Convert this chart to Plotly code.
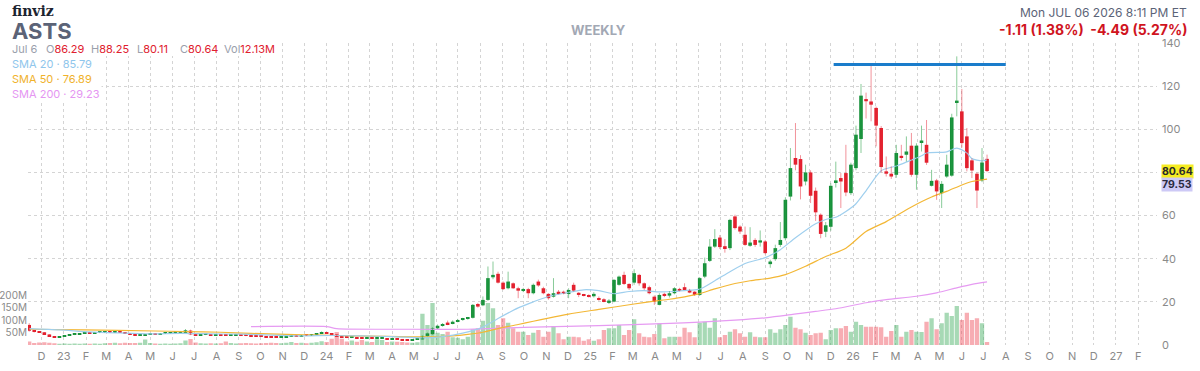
import pandas as pd
import plotly.graph_objects as go

# ---------------- data (weekly, ASTS) ----------------
first_week = "2022-11-14"

opens = [
    9.3, 6.6, 6.2, 5.9, 4.9, 4.0, 3.6, 3.9, 4.4, 4.7,
    5.0, 5.2, 5.5, 5.3, 5.6, 5.8, 6.0, 5.8, 6.0, 5.7,
    5.3, 4.9, 4.4, 4.6, 4.9, 5.2, 5.0, 5.3, 5.5, 5.6,
    5.8, 6.0, 6.7, 4.9, 4.6, 4.7, 4.8, 4.6, 4.7, 4.6,
    4.4, 4.5, 4.6, 4.4, 4.2, 4.1, 4.0, 3.9, 3.7, 3.5,
    3.4, 3.6, 3.9, 4.3, 4.1, 4.6, 4.4, 4.9, 5.4, 5.8,
    5.4, 4.9, 4.0, 3.5, 3.3, 3.5, 3.2, 3.0, 3.2, 3.0,
    3.0, 3.1, 2.7, 2.8, 2.5, 2.3, 2.2, 2.5, 2.6, 4.2,
    5.0, 7.7, 8.9, 10.4, 9.9, 10.8, 11.6, 12.1, 12.6, 19.0,
    18.4, 20.9, 31.4, 33.0, 28.9, 26.3, 28.6, 26.3, 25.2, 25.9,
    24.0, 29.4, 26.3, 23.7, 22.4, 24.7, 24.7, 23.6, 27.9, 24.2,
    23.2, 23.0, 22.6, 21.7, 21.2, 19.5, 20.1, 27.9, 32.5, 28.3,
    28.9, 32.5, 28.6, 26.8, 22.4, 18.6, 23.7, 22.9, 24.0, 26.0,
    26.8, 25.5, 24.7, 23.2, 31.7, 39.0, 45.6, 49.8, 45.8, 44.9,
    59.6, 54.9, 51.1, 46.0, 48.7, 47.5, 48.0, 37.5, 39.8, 46.4,
    49.5, 68.8, 86.7, 86.2, 75.8, 80.0, 71.5, 60.4, 52.5, 54.8,
    75.1, 77.4, 79.7, 70.4, 82.0, 95.5, 114.0, 112.9, 109.9, 100.6,
    80.5, 79.4, 78.9, 87.7, 88.2, 92.4, 78.9, 93.9, 92.8, 73.8,
    76.3, 70.4, 78.1, 78.5, 112.5, 108.3, 96.7, 85.6, 79.4, 76.3,
    86.29,
]
highs = [
    10.1, 6.9, 6.4, 6.0, 5.0, 4.2, 4.0, 4.5, 4.8, 5.1,
    5.3, 5.5, 5.6, 5.7, 5.9, 6.1, 6.2, 6.1, 6.1, 5.8,
    5.4, 5.0, 4.7, 5.0, 5.2, 5.3, 5.4, 5.6, 5.7, 5.9,
    6.1, 7.4, 7.1, 5.0, 4.8, 4.9, 4.9, 4.8, 4.8, 4.7,
    4.6, 4.7, 4.7, 4.5, 4.3, 4.2, 4.1, 4.0, 3.8, 3.6,
    3.7, 4.0, 4.3, 4.4, 4.6, 4.7, 5.0, 5.5, 6.3, 5.9,
    5.5, 5.0, 4.1, 3.7, 3.6, 3.6, 3.3, 3.3, 3.3, 3.2,
    3.2, 3.1, 2.9, 2.9, 2.6, 2.5, 2.6, 2.8, 4.4, 5.8,
    8.2, 9.5, 10.2, 11.3, 11.4, 12.1, 12.6, 13.0, 19.0, 19.5,
    22.5, 36.4, 38.7, 34.0, 29.5, 34.0, 29.0, 27.0, 26.5, 26.5,
    28.5, 30.3, 27.0, 24.0, 31.0, 25.5, 25.2, 26.3, 28.9, 24.5,
    23.7, 23.5, 24.5, 22.5, 21.7, 21.3, 30.5, 32.2, 34.0, 28.6,
    35.1, 33.0, 29.0, 27.5, 23.0, 24.0, 24.2, 25.0, 26.8, 26.5,
    28.6, 26.0, 25.0, 31.5, 40.5, 49.1, 53.7, 51.0, 49.1, 58.5,
    60.4, 55.5, 54.9, 54.6, 49.5, 53.1, 48.7, 39.5, 46.5, 57.0,
    68.5, 91.3, 102.9, 88.0, 83.6, 81.0, 73.0, 61.0, 57.0, 75.0,
    85.0, 79.7, 92.8, 84.5, 101.7, 121.0, 117.0, 130.0, 110.5, 101.5,
    87.4, 82.8, 92.8, 92.8, 96.7, 98.3, 93.5, 101.7, 104.3, 81.2,
    77.0, 76.0, 88.2, 107.2, 133.8, 118.7, 100.6, 86.5, 80.0, 91.3,
    88.25,
]
lows = [
    6.2, 5.8, 5.7, 4.9, 3.9, 3.5, 3.5, 3.8, 4.3, 4.6,
    4.9, 5.1, 5.2, 5.2, 5.5, 5.7, 5.7, 5.7, 5.6, 5.2,
    4.8, 4.3, 4.2, 4.5, 4.8, 4.9, 4.9, 5.2, 5.4, 5.5,
    5.7, 5.9, 4.6, 4.5, 4.5, 4.6, 4.5, 4.5, 4.4, 4.3,
    4.3, 4.4, 4.3, 4.1, 4.0, 3.9, 3.8, 3.6, 3.4, 3.3,
    3.3, 3.5, 3.8, 4.0, 4.0, 4.3, 4.3, 4.8, 5.3, 5.3,
    4.8, 3.9, 3.4, 3.2, 3.2, 3.1, 2.9, 2.9, 2.9, 2.9,
    2.8, 2.6, 2.6, 2.4, 2.2, 2.0, 2.1, 2.3, 2.5, 4.0,
    4.8, 7.5, 8.5, 9.2, 9.6, 10.5, 11.2, 11.7, 12.3, 17.3,
    18.0, 20.5, 30.5, 28.5, 25.5, 25.8, 26.0, 21.7, 24.5, 21.7,
    23.5, 27.0, 23.5, 21.0, 22.0, 23.5, 23.5, 21.7, 24.8, 22.2,
    22.5, 22.0, 22.0, 20.5, 19.8, 19.0, 19.8, 27.5, 27.8, 25.5,
    27.9, 27.5, 25.5, 23.5, 18.6, 18.4, 22.2, 22.0, 23.5, 24.9,
    25.5, 24.0, 22.8, 22.7, 31.0, 38.5, 45.0, 44.5, 42.8, 44.0,
    53.5, 51.5, 46.0, 45.5, 45.5, 45.6, 42.0, 35.8, 39.0, 45.5,
    48.5, 67.0, 81.0, 67.5, 74.0, 65.8, 57.5, 49.5, 50.0, 53.0,
    73.0, 63.5, 69.0, 69.5, 81.0, 89.0, 105.0, 103.7, 92.1, 80.0,
    78.1, 77.0, 77.5, 85.5, 85.1, 78.0, 72.0, 89.7, 83.5, 73.5,
    67.3, 63.5, 77.5, 78.0, 106.0, 91.5, 80.5, 77.4, 63.5, 75.5,
    80.11,
]
closes = [
    6.6, 6.1, 5.9, 5.0, 4.0, 3.6, 3.9, 4.4, 4.7, 5.0,
    5.2, 5.4, 5.3, 5.6, 5.8, 5.9, 5.8, 6.0, 5.7, 5.3,
    4.9, 4.4, 4.6, 4.9, 5.1, 5.0, 5.3, 5.5, 5.6, 5.8,
    6.0, 6.8, 4.9, 4.6, 4.7, 4.8, 4.6, 4.7, 4.5, 4.4,
    4.5, 4.6, 4.4, 4.2, 4.1, 4.0, 3.9, 3.7, 3.5, 3.4,
    3.6, 3.9, 4.2, 4.1, 4.5, 4.4, 4.9, 5.4, 5.9, 5.4,
    4.9, 4.1, 3.5, 3.3, 3.5, 3.2, 3.0, 3.2, 3.0, 3.1,
    3.1, 2.7, 2.8, 2.5, 2.3, 2.2, 2.5, 2.6, 4.2, 5.4,
    7.7, 8.9, 9.6, 9.6, 10.8, 11.6, 12.1, 12.6, 18.6, 17.8,
    20.9, 31.0, 32.5, 28.9, 25.9, 29.4, 26.3, 25.2, 25.8, 24.0,
    27.9, 27.6, 24.0, 21.7, 24.0, 24.0, 24.0, 25.5, 25.2, 23.2,
    22.9, 22.6, 23.7, 20.9, 20.3, 20.6, 30.2, 31.7, 28.3, 26.3,
    33.3, 28.6, 26.3, 24.0, 20.1, 23.2, 23.0, 24.0, 26.3, 25.4,
    25.9, 24.3, 23.2, 31.0, 37.9, 45.6, 49.1, 45.4, 44.9, 58.0,
    54.2, 52.6, 46.4, 47.5, 46.4, 48.5, 42.6, 38.7, 44.9, 48.7,
    67.3, 82.0, 83.6, 73.5, 80.0, 69.2, 61.5, 51.5, 55.5, 73.8,
    76.3, 75.8, 70.7, 83.6, 97.5, 115.6, 113.0, 111.4, 101.7, 82.5,
    79.4, 78.1, 89.0, 86.7, 89.7, 78.9, 92.4, 94.8, 84.5, 76.1,
    71.2, 74.7, 83.6, 105.5, 113.3, 93.6, 82.0, 80.9, 71.6, 84.6,
    80.64,
]
volumes_m = [
    14, 8, 10, 11, 9, 7, 5, 6, 5, 6,
    5, 6, 5, 6, 5, 7, 8, 9, 7, 9,
    8, 8, 9, 22, 8, 6, 5, 6, 5, 6,
    7, 18, 24, 10, 7, 6, 7, 6, 7, 14,
    8, 6, 7, 8, 7, 6, 7, 8, 9, 8,
    7, 9, 12, 8, 9, 7, 9, 11, 15, 12,
    25, 52, 25, 14, 18, 13, 20, 14, 12, 23,
    20, 12, 14, 13, 12, 10, 9, 11, 125, 80,
    168, 49, 44, 53, 31, 29, 23, 33, 63, 67,
    97, 168, 147, 80, 107, 89, 67, 53, 53, 40,
    49, 60, 33, 53, 76, 47, 23, 33, 33, 31,
    17, 23, 17, 23, 60, 67, 67, 80, 40, 60,
    103, 47, 33, 31, 44, 87, 27, 33, 33, 33,
    69, 51, 31, 89, 93, 69, 107, 31, 40, 53,
    63, 47, 33, 51, 33, 31, 31, 63, 49, 63,
    80, 113, 69, 63, 49, 40, 47, 49, 23, 60,
    67, 67, 76, 53, 93, 80, 73, 73, 73, 71,
    33, 56, 80, 33, 53, 60, 53, 52, 93, 107,
    63, 87, 129, 116, 156, 100, 129, 100, 107, 87,
    12.13,
]

# moving averages at selected weeks (week index, value)
sma20_idx = [0, 6, 12, 18, 24, 30, 36, 42, 48, 54, 60, 66, 72, 78, 82, 86, 90, 93, 97, 100,
             103, 107, 110, 113, 116, 119, 122, 125, 128, 131, 133, 136, 139, 142, 146, 149,
             152, 156, 158, 160, 162, 164, 166, 169, 172, 175, 177, 178, 181, 182, 184, 186,
             187, 189, 190]
sma20_val = [7.6, 7.0, 6.1, 5.6, 5.2, 5.4, 5.2, 5.0, 4.6, 4.2, 4.4, 4.2, 3.9, 3.3, 3.9, 5.5,
             8.3, 12.3, 17.2, 20.0, 22.5, 24.4, 25.6, 25.2, 23.8, 24.8, 25.2, 24.6, 24.8, 25.4,
             25.9, 29.8, 34.0, 37.8, 40.5, 44.2, 49.7, 56.2, 58.2, 59.2, 61.9, 65.5, 71.5, 80.8,
             83.0, 85.7, 87.7, 89.0, 89.3, 89.5, 91.3, 89.0, 86.4, 85.3, 85.79]
sma50_idx = [0, 11, 25, 31, 38, 44, 51, 58, 64, 71, 76, 80, 84, 87, 90, 93, 97, 100, 103, 107,
             113, 120, 124, 127, 130, 133, 136, 140, 143, 147, 150, 154, 158, 162, 166, 170,
             175, 179, 182, 185, 187, 190]
sma50_val = [7.3, 7.0, 6.5, 6.2, 5.9, 5.4, 4.9, 4.6, 4.2, 4.0, 3.8, 3.8, 4.2, 4.9, 5.9, 7.6,
             9.5, 11.0, 12.5, 14.3, 16.5, 19.0, 20.3, 21.2, 22.3, 23.8, 26.0, 28.5, 29.8, 31.0,
             32.6, 36.5, 41.0, 44.9, 52.6, 57.2, 64.0, 68.6, 71.2, 74.2, 75.8, 76.89]
sma200_idx = [44, 59, 61, 75, 87, 100, 113, 127, 133, 140, 146, 150, 153, 156, 160, 166, 170,
              176, 180, 184, 187, 190]
sma200_val = [8.5, 8.5, 7.6, 7.3, 7.3, 8.3, 9.0, 10.0, 10.6, 11.5, 12.6, 13.7, 14.7, 15.6,
              16.8, 19.6, 21.0, 22.6, 24.2, 26.5, 28.1, 29.23]

# horizontal trend line drawn on the chart
trend_start = "2025-12-05"
trend_end = "2026-08-01"
trend_level = 130

after_hours_price = 79.53
price_ticks = [0, 20, 40, 60, 80, 100, 120, 140]
price_tick_text = ["0", "20", "40", "60", "", "100", "120", "140"]
volume_ticks = [50, 100, 150, 200]
volume_tick_text = ["50M", "100M", "150M", "200M"]
month_letters = ["J", "F", "M", "A", "M", "J", "J", "A", "S", "O", "N", "D"]

# ---------------- figure ----------------
n = len(closes)
dates = pd.date_range(first_week, periods=n, freq="7D")
DAY = 86400000

GREEN, RED = "#16903a", "#e3202d"
GREEN_W, RED_W = "rgba(40,160,70,0.55)", "rgba(230,40,55,0.50)"
GREEN_V, RED_V = "rgba(60,170,90,0.45)", "rgba(235,60,75,0.42)"

up = [c >= o for o, c in zip(opens, closes)]

PL, PR, PT, PB = 28, 1157, 43, 345


def px(x):
    return (x - PL) / (PR - PL)


def py(y):
    return (PB - y) / (PB - PT)


fig = go.Figure()

# volume (base axis, drawn beneath)
fig.add_trace(go.Bar(
    x=dates, y=volumes_m, yaxis="y",
    marker=dict(color=[GREEN_V if u else RED_V for u in up], line=dict(width=0)),
    width=6 * DAY, hoverinfo="skip",
))


def sma_trace(idx, val, color):
    return go.Scatter(x=[dates[i] for i in idx], y=val, yaxis="y2", mode="lines",
                      line=dict(color=color, width=1.2, shape="spline", smoothing=0.7),
                      hoverinfo="skip")


fig.add_trace(sma_trace(sma200_idx, sma200_val, "#e69bf2"))
fig.add_trace(sma_trace(sma50_idx, sma50_val, "#f3b735"))
fig.add_trace(sma_trace(sma20_idx, sma20_val, "#9fcfee"))

# wicks
for want, col in ((True, GREEN_W), (False, RED_W)):
    xs, ys = [], []
    for d, h, l, u in zip(dates, highs, lows, up):
        if u == want:
            xs += [d, d, None]
            ys += [l, h, None]
    fig.add_trace(go.Scatter(x=xs, y=ys, yaxis="y2", mode="lines",
                             line=dict(color=col, width=1), hoverinfo="skip"))

# bodies
fig.add_trace(go.Bar(
    x=dates,
    y=[max(abs(c - o), 0.5) for o, c in zip(opens, closes)],
    base=[min(o, c) for o, c in zip(opens, closes)],
    yaxis="y2",
    marker=dict(color=[GREEN if u else RED for u in up], line=dict(width=0)),
    width=5 * DAY, hoverinfo="skip",
))

# trend line
fig.add_trace(go.Scatter(x=[trend_start, trend_end], y=[trend_level, trend_level], yaxis="y2",
                         mode="lines", line=dict(color="#1a7ccb", width=3), hoverinfo="skip"))

tick_dates = pd.date_range("2022-12-01", "2027-02-01", freq="MS")
tick_text = [f"{d.year % 100:02d}" if d.month == 1 else month_letters[d.month - 1] for d in tick_dates]

GRID = "#d4d4d4"
TICKFONT = dict(family="Inter, Roboto, sans-serif", size=11, color="#8a8a8a")

fig.update_layout(
    width=1200, height=371,
    margin=dict(l=PL, r=1200 - PR, t=PT, b=371 - PB, pad=0, autoexpand=False),
    paper_bgcolor="white", plot_bgcolor="white",
    showlegend=False, barmode="overlay", hovermode=False,
    xaxis=dict(type="date", range=["2022-11-12 08:00", "2027-02-27"],
               tickvals=tick_dates, ticktext=tick_text, ticks="", automargin=False,
               showgrid=True, gridcolor=GRID, griddash="dot", gridwidth=1,
               zeroline=False, showline=False, tickfont=TICKFONT, ticklabelstandoff=3),
    yaxis=dict(range=[0, 1208], side="left", tickvals=volume_ticks, ticktext=volume_tick_text,
               showgrid=False, zeroline=False, showline=False, ticks="", automargin=False,
               tickfont=dict(family="Inter, Roboto, sans-serif", size=10, color="#8a8a8a"),
               ticklabelstandoff=0),
    yaxis2=dict(range=[0, 140], overlaying="y", side="right", tickvals=price_ticks,
                ticktext=price_tick_text, automargin=False,
                showgrid=True, gridcolor=GRID, griddash="dot", gridwidth=1,
                zeroline=False, showline=False, ticks="", tickfont=TICKFONT,
                ticklabelstandoff=4),
)

# white strip behind the OHLC readout row (it hides the top grid line there)
fig.add_shape(type="rect", xref="paper", yref="paper", x0=px(28), x1=px(277),
              y0=py(56), y1=py(41), fillcolor="white", line=dict(width=0), layer="above")

ann = []
SANS = "Inter, Roboto, sans-serif"


def txt(text, x, y, size, color, anchor="left", family=SANS, bg=None, **kw):
    d = dict(text=text, x=px(x), y=py(y), xref="paper", yref="paper", xanchor=anchor,
             yanchor="middle", showarrow=False, font=dict(family=family, size=size, color=color))
    if bg:
        d["bgcolor"] = bg
        d["borderpad"] = 1
    d.update(kw)
    ann.append(d)


txt("<b>finviz</b>", 10, 11, 14, "#1c2430", family="DejaVu Serif, serif")
txt("<b>ASTS</b>", 10, 31.5, 22, "#5b6377", height=20)
txt("<b>WEEKLY</b>", 598, 30, 13, "#a2a8b4", anchor="center")
txt("Mon JUL 06 2026 8:11 PM ET", 1189, 12, 12, "#5b6377", anchor="right")
txt("<b>-1.11 (1.38%)  -4.49 (5.27%)</b>", 1189, 30, 14, "#d0141e", anchor="right")

GRAY = "#9aa0ac"
VAL = "#e0202e"
txt("Jul 6", 10, 49, 11, GRAY)
for lab, val, x in (("O", opens[-1], 44), ("H", highs[-1], 89), ("L", lows[-1], 135), ("C", closes[-1], 178)):
    txt(f"{lab}<span style='color:{VAL}'>{val:.2f}</span>", x, 49, 11, GRAY)
txt(f"Vol<span style='color:{VAL}'>{volumes_m[-1]:.2f}M</span>", 222, 49, 11, GRAY)
txt(f"SMA 20 · {sma20_val[-1]:.2f}", 10, 64, 11, "#8fc6ec", bg="white")
txt(f"SMA 50 · {sma50_val[-1]:.2f}", 10, 79, 11, "#f0b22c", bg="white")
txt(f"SMA 200 · {sma200_val[-1]:.2f}", 10, 94, 11, "#e596f2", bg="white")

# last price tags on the price axis
ann.append(dict(text=f"<b>{closes[-1]:.2f}</b>", x=1.0, xref="paper", y=closes[-1], yref="y2",
                xanchor="left", yanchor="middle", xshift=4, showarrow=False, bgcolor="#f6ec22",
                borderpad=0, font=dict(family=SANS, size=10.5, color="#2a2a2a")))
ann.append(dict(text=f"<b>{after_hours_price:.2f}</b>", x=1.0, xref="paper", y=closes[-1], yref="y2",
                xanchor="left", yanchor="middle", xshift=4, yshift=-13, showarrow=False,
                bgcolor="#cdc9f6", borderpad=0, font=dict(family=SANS, size=10.5, color="#2a2a40")))

fig.update_layout(annotations=ann)
fig.write_html("out.html")
